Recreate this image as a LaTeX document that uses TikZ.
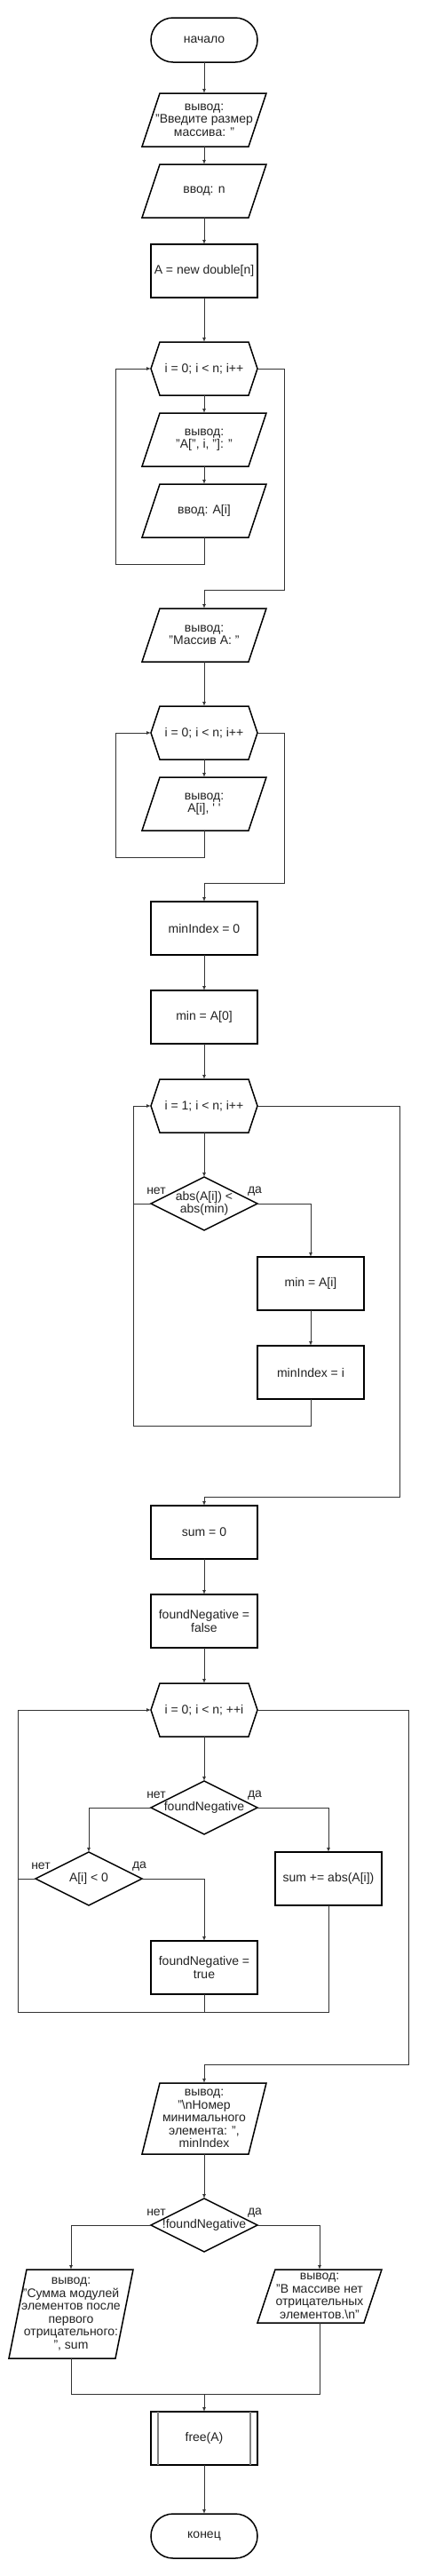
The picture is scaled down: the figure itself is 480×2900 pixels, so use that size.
\documentclass[tikz,border=0pt]{standalone}
\usepackage{fontspec}
\setmainfont{Liberation Sans}
\usetikzlibrary{arrows.meta}
\definecolor{lc}{HTML}{333333}
\definecolor{tc}{HTML}{222222}
\definecolor{ic}{HTML}{808080}
\newcommand{\fsz}{\fontsize{14}{14.5}\selectfont}
\newcommand{\ioshape}[1]{\draw[shp] ([xshift=10pt]#1.north west) -- ([xshift=10pt]#1.north east) -- ([xshift=-10pt]#1.south east) -- ([xshift=-10pt]#1.south west) -- cycle;}
\newcommand{\hexshape}[1]{\draw[shp] (#1.west) -- ([xshift=10pt]#1.north west) -- ([xshift=-10pt]#1.north east) -- (#1.east) -- ([xshift=-10pt]#1.south east) -- ([xshift=10pt]#1.south west) -- cycle;}
\newcommand{\dshape}[1]{\draw[shp] (#1.west) -- (#1.north) -- (#1.east) -- (#1.south) -- cycle;}
\begin{document}
\begin{tikzpicture}[x=1pt,y=-1pt,
  base/.style={minimum width=120pt,minimum height=60pt,inner sep=0pt,outer sep=0pt,align=center,text=tc,font=\fsz},
  proc/.style={base,draw=black,line width=1.5pt},
  term/.style={base,draw=black,line width=1.5pt,minimum height=50pt,rounded corners=25pt},
  shp/.style={draw=black,line width=1.5pt,line join=miter},
  arr/.style={draw=lc,line width=1pt,-{Latex[length=5pt,width=4pt]}},
  ln/.style={draw=lc,line width=1pt},
  inl/.style={draw=ic,line width=1.2pt},
  lbl/.style={text=tc,font=\fsz,inner sep=0pt}]
\useasboundingbox[fill=white] (0,0) rectangle (480,2900);

% nodes
\node[term] (start) at (230,45) {начало};
\node[base] (out1) at (230,135) {вывод:\\"Введите размер\\массива: "};
\node[base] (in1) at (230,215) {ввод: n};
\node[proc] (alloc) at (230,305) {A = new double[n]};
\node[base] (loop1) at (230,415) {i = 0; i < n; i++};
\node[base] (out2) at (230,495) {вывод:\\"A[", i, "]: "};
\node[base] (in2) at (230,575) {ввод: A[i]};
\node[base] (out3) at (230,715) {вывод:\\"Массив A: "};
\node[base] (loop2) at (230,825) {i = 0; i < n; i++};
\node[base] (out4) at (230,905) {вывод:\\A[i], \textquotesingle\ \textquotesingle};
\node[proc] (mi0) at (230,1045) {minIndex = 0};
\node[proc] (min0) at (230,1145) {min = A[0]};
\node[base] (loop3) at (230,1245) {i = 1; i < n; i++};
\node[base] (d1) at (230,1355) {abs(A[i]) <\\abs(min)};
\node[proc] (minai) at (350,1445) {min = A[i]};
\node[proc] (mii) at (350,1545) {minIndex = i};
\node[proc] (sum0) at (230,1725) {sum = 0};
\node[proc] (fn0) at (230,1825) {foundNegative =\\false};
\node[base] (loop4) at (230,1925) {i = 0; i < n; ++i};
\node[base] (d2) at (230,2035) {foundNegative};
\node[base] (d3) at (100,2115) {A[i] < 0};
\node[proc] (sumadd) at (370,2115) {sum += abs(A[i])};
\node[proc] (fn1) at (230,2215) {foundNegative =\\true};
\node[base,minimum height=80pt] (out5) at (230,2385) {вывод:\\"\textbackslash nНомер\\минимального\\элемента: ",\\minIndex};
\node[base] (d4) at (230,2505) {!foundNegative};
\node[base,minimum height=100pt] (out6) at (80,2605) {вывод:\\"Сумма модулей\\элементов после\\первого\\отрицательного:\\", sum};
\node[base] (out7) at (360,2585) {вывод:\\"В массиве нет\\отрицательных\\элементов.\textbackslash n"};
\node[proc] (free) at (230,2745) {free(A)};
\node[term] (end) at (230,2855) {конец};

% shapes
\ioshape{out1} \ioshape{in1} \ioshape{out2} \ioshape{in2} \ioshape{out3} \ioshape{out4}
\ioshape{out5} \ioshape{out6} \ioshape{out7}
\hexshape{loop1} \hexshape{loop2} \hexshape{loop3} \hexshape{loop4}
\dshape{d1} \dshape{d2} \dshape{d3} \dshape{d4}
\draw[inl] ([xshift=8pt]free.north west) -- ([xshift=8pt]free.south west);
\draw[inl] ([xshift=-8pt]free.north east) -- ([xshift=-8pt]free.south east);

% labels
\node[lbl] at ([shift={(6pt,14pt)}]d1.west) {нет};
\node[lbl] at ([shift={(-3pt,14pt)}]d1.east) {да};
\node[lbl] at ([shift={(6pt,14pt)}]d2.west) {нет};
\node[lbl] at ([shift={(-3pt,14pt)}]d2.east) {да};
\node[lbl] at ([shift={(6pt,14pt)}]d3.west) {нет};
\node[lbl] at ([shift={(-3pt,14pt)}]d3.east) {да};
\node[lbl] at ([shift={(6pt,14pt)}]d4.west) {нет};
\node[lbl] at ([shift={(-3pt,14pt)}]d4.east) {да};

% connectors
\draw[arr] (start) -- (out1);
\draw[arr] (out1) -- (in1);
\draw[arr] (in1) -- (alloc);
\draw[arr] (alloc) -- (loop1);
\draw[arr] (loop1) -- (out2);
\draw[arr] (out2) -- (in2);
\draw[arr] (in2.south) |- (130,635) |- (loop1.west);
\draw[arr] (loop1.east) -| (320,664) -| (out3.north);
\draw[arr] (out3) -- (loop2);
\draw[arr] (loop2) -- (out4);
\draw[arr] (out4.south) |- (130,965) |- (loop2.west);
\draw[arr] (loop2.east) -| (320,994) -| (mi0.north);
\draw[arr] (mi0) -- (min0);
\draw[arr] (min0) -- (loop3);
\draw[arr] (loop3) -- (d1);
\draw[arr] (d1.east) -| (minai.north);
\draw[ln] (d1.west) -- (150,1355);
\draw[arr] (minai) -- (mii);
\draw[arr] (mii.south) |- (150,1605) |- (loop3.west);
\draw[arr] (loop3.east) -| (450,1685) -| (sum0.north);
\draw[arr] (sum0) -- (fn0);
\draw[arr] (fn0) -- (loop4);
\draw[arr] (loop4) -- (d2);
\draw[arr] (d2.west) -| (d3.north);
\draw[arr] (d2.east) -| (sumadd.north);
\draw[arr] (d3.east) -| (fn1.north);
\draw[ln] (d3.west) -- (20,2115);
\draw[arr] (fn1.south) |- (20,2265) |- (loop4.west);
\draw[ln] (sumadd.south) |- (230,2265);
\draw[arr] (loop4.east) -| (460,2324) -| (out5.north);
\draw[arr] (out5) -- (d4);
\draw[arr] (d4.west) -| (out6.north);
\draw[arr] (d4.east) -| (out7.north);
\coordinate (j) at (230,2695);
\draw[ln] (out6.south) |- (j);
\draw[ln] (out7.south) |- (j);
\draw[arr] (j) -- (free);
\draw[arr] (free) -- (end);
\end{tikzpicture}
\end{document}
